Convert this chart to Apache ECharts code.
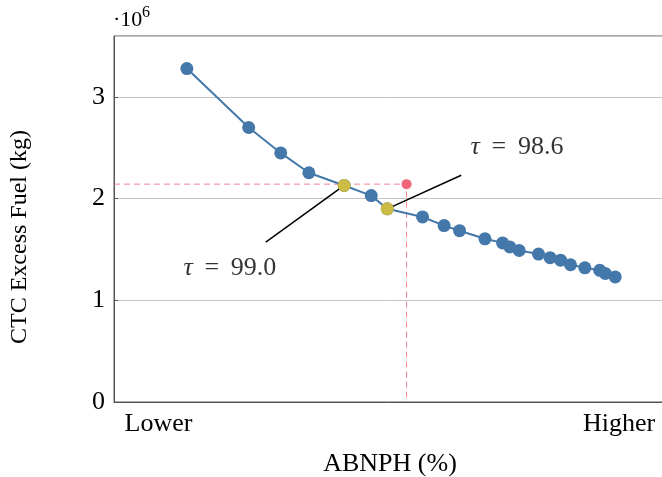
<!DOCTYPE html>
<html>
<head>
<meta charset="utf-8">
<script src="https://cdn.jsdelivr.net/npm/echarts@6/dist/echarts.min.js"></script>
<style>
  html, body { margin: 0; padding: 0; background: #fff; }
  #chart { width: 662px; height: 477px; }
</style>
</head>
<body>
<div id="chart"></div>
<script>
// ABNPH has no numeric scale in the source, only Lower -> Higher (0..100 here)
const abnph = [13.2, 24.4, 30.2, 35.3, 41.7, 46.6, 49.5, 55.9, 59.8, 62.6, 67.2,
  70.4, 71.7, 73.4, 76.9, 79.0, 80.9, 82.7, 85.3, 88.0, 89.0, 90.8];
const fuelKg = [3280000, 2700000, 2450000, 2255000, 2130000, 2030000, 1900000,
  1820000, 1735000, 1685000, 1605000, 1565000, 1525000, 1490000, 1455000,
  1420000, 1395000, 1350000, 1320000, 1295000, 1265000, 1230000];

// picked thresholds (index into the arrays above)
const tauIdx = [4, 6];
const tauText = ['99.0', '98.6'];
// where each tau label sits and where its pointer line starts
const tauLabelPos = [[21.0, 1319000], [73.0, 2503000]];
const tauPinPos = [[27.5, 1573000], [62.9, 2230000]];

// reference (target) point
const targetPt = [53.0, 2143000];

const xTickVals = [8.06, 91.5];
const xTickText = ['Lower', 'Higher'];
const yTicks = [0, 1, 2, 3];

const FONT = 'Liberation Serif';
const blue = '#4477AA', yellow = '#CCBB44', red = '#EE6677';

let chart = echarts.init(document.getElementById('chart'));

const pinSeries = tauIdx.map(function (idx, k) {
  return {
    type: 'line',
    data: [tauPinPos[k], [abnph[idx], fuelKg[idx]]],
    symbol: 'none',
    lineStyle: { color: '#000', width: 1.5 },
    z: 3,
    silent: true
  };
});

chart.setOption({
  animation: false,
  grid: { left: 114, top: 36, width: 552, height: 366, show: true,
    borderColor: '#555', borderWidth: 1, outerBoundsMode: 'none' },
  xAxis: {
    type: 'value',
    min: 0,
    max: 100,
    name: 'ABNPH (%)',
    nameLocation: 'middle',
    nameGap: 49,
    nameTextStyle: { fontFamily: FONT, fontSize: 26, color: '#000' },
    axisLine: { show: true, onZero: false, lineStyle: { color: '#555', width: 1 } },
    axisTick: { show: false },
    splitLine: { show: false },
    axisLabel: {
      customValues: xTickVals,
      fontFamily: FONT, fontSize: 26, color: '#000', margin: 9,
      formatter: function (v) {
        const i = xTickVals.indexOf(v);
        return i >= 0 ? xTickText[i] : '';
      }
    }
  },
  yAxis: {
    type: 'value',
    min: 0,
    max: 3600000,
    interval: 1000000,
    name: 'CTC Excess Fuel (kg)',
    nameLocation: 'middle',
    nameGap: 82,
    nameTextStyle: { fontFamily: FONT, fontSize: 24, color: '#000', padding: [0, 36, 0, 0] },
    axisLine: { show: true, lineStyle: { color: '#555', width: 1 } },
    axisTick: { show: true, inside: true, length: 4, lineStyle: { color: '#555' } },
    splitLine: { show: true, lineStyle: { color: '#c4c4c4', width: 1 } },
    axisLabel: {
      showMaxLabel: false,
      fontFamily: FONT, fontSize: 26, color: '#000', margin: 9,
      formatter: function (v) {
        const t = v / 1000000;
        return yTicks.indexOf(t) >= 0 ? String(t) : '';
      }
    }
  },
  graphic: [
    { type: 'text', left: 113, top: 9,
      style: { text: '·10', font: '22px "Liberation Serif"', fill: '#000' } },
    { type: 'text', left: 142, top: 5,
      style: { text: '6', font: '16px "Liberation Serif"', fill: '#000' } }
  ],
  series: [
    {
      // dashed guides to the target point
      type: 'line',
      data: [[0, targetPt[1]], targetPt, [targetPt[0], 0]],
      symbol: 'none',
      lineStyle: { color: red, width: 1, type: [6, 4], opacity: 0.8 },
      z: 1,
      silent: true
    },
    {
      type: 'line',
      data: abnph.map(function (x, i) { return [x, fuelKg[i]]; }),
      symbol: 'circle',
      symbolSize: 13,
      showAllSymbol: true,
      lineStyle: { color: blue, width: 2 },
      itemStyle: { color: blue },
      z: 2
    },
    pinSeries[0],
    pinSeries[1],
    {
      type: 'scatter',
      data: tauIdx.map(function (i) { return [abnph[i], fuelKg[i]]; }),
      symbolSize: 13,
      itemStyle: { color: yellow, opacity: 1 },
      z: 4
    },
    {
      type: 'scatter',
      data: [targetPt],
      symbolSize: 10,
      itemStyle: { color: red, opacity: 1 },
      z: 4
    },
    {
      type: 'scatter',
      data: tauLabelPos.map(function (p, k) { return { value: p, name: tauText[k] }; }),
      symbolSize: 0,
      label: {
        show: true,
        position: 'inside',
        fontFamily: FONT,
        fontSize: 26,
        color: '#000',
        formatter: function (p) { return '{i|τ} \u2009= \u2009' + p.name; },
        rich: { i: { fontFamily: FONT, fontSize: 26, fontStyle: 'italic', color: '#000' } }
      },
      z: 5,
      silent: true
    }
  ]
});
</script>
</body>
</html>
